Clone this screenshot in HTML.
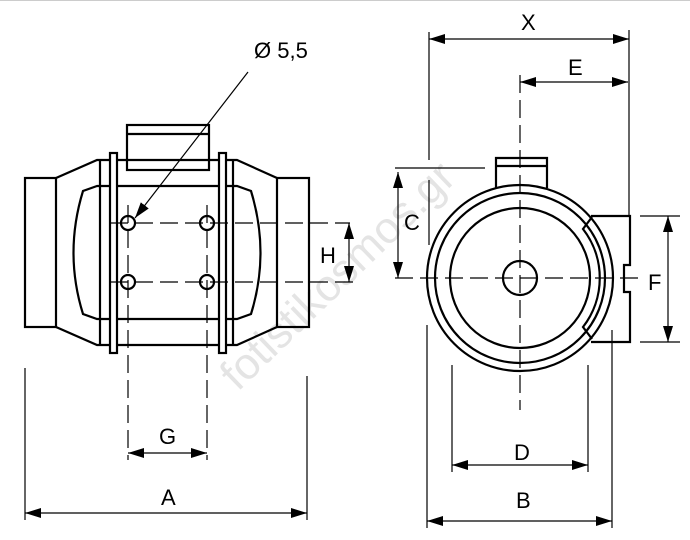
<!DOCTYPE html>
<html><head><style>body{margin:0;background:#fff}svg{display:block}text{font-family:"Liberation Sans",sans-serif;font-size:22px;fill:#000}</style></head><body>
<svg width="690" height="540" viewBox="0 0 690 540" xmlns="http://www.w3.org/2000/svg">
<defs>
<marker id="a" viewBox="0 0 16 10" refX="16" refY="5" markerWidth="16" markerHeight="10" markerUnits="userSpaceOnUse" orient="auto-start-reverse"><path d="M0,0L16,5L0,10z" fill="#000"/></marker>
</defs>
<text x="338" y="290" text-anchor="middle" transform="rotate(-44 338 276)" style="font-size:44px;fill:#e4e4e4">fotistikosmos.gr</text>
<line x1="0" y1="0.5" x2="690" y2="0.5" stroke="#ccc"/>
<g fill="none" stroke="#000" stroke-width="2.2">
<rect x="25" y="178" width="31" height="149"/>
<rect x="277" y="178" width="32" height="149"/>
<path d="M56,178L97,160H237L277,178M56,327L97,345H237L277,327"/>
<rect x="127" y="125" width="82" height="45"/>
<line x1="127" y1="134" x2="209" y2="134"/>
<path d="M97,186L83,191Q64,253 83,314L97,319H237L251,314Q270,253 251,191L237,186Z"/>
<line x1="100" y1="160" x2="100" y2="345"/><line x1="233" y1="160" x2="233" y2="345"/>
<rect x="110" y="153" width="7" height="200" fill="#fff"/>
<rect x="219" y="153" width="7" height="200" fill="#fff"/>
<circle cx="128" cy="223" r="7"/><circle cx="207" cy="223" r="7"/>
<circle cx="128" cy="282" r="7"/><circle cx="207" cy="282" r="7"/>
<circle cx="520" cy="278" r="93"/><circle cx="520" cy="278" r="85"/><circle cx="520" cy="278" r="70"/><circle cx="520" cy="278" r="17"/>
<path d="M496,188V158H547V188M496,166H547"/>
<path d="M591,216H630V265H624V292H630V342H591"/>
<path d="M592,217L583,229A80,80 0 0 1 583,327L592,339"/>
</g>
<g stroke="#000" stroke-width="1.2" fill="none">
<line x1="248" y1="72" x2="135" y2="218" marker-end="url(#a)"/>
<g stroke-dasharray="18,7">
<line x1="110" y1="223" x2="350" y2="223"/><line x1="110" y1="282" x2="355" y2="282"/>
<line x1="128" y1="205" x2="128" y2="460"/><line x1="207" y1="205" x2="207" y2="460"/>
<line x1="395" y1="278" x2="645" y2="278"/>
<line x1="520" y1="75" x2="520" y2="410"/>
</g>
<line x1="25" y1="368" x2="25" y2="520"/><line x1="307" y1="376" x2="307" y2="520"/>
<line x1="25" y1="513" x2="307" y2="513" marker-start="url(#a)" marker-end="url(#a)"/>
<line x1="128" y1="453" x2="207" y2="453" marker-start="url(#a)" marker-end="url(#a)"/>
<line x1="349" y1="223" x2="349" y2="282" marker-start="url(#a)" marker-end="url(#a)"/>
<line x1="429" y1="32" x2="429" y2="160"/><line x1="429" y1="180" x2="429" y2="245"/>
<line x1="629" y1="30" x2="629" y2="215"/>
<line x1="429" y1="39" x2="629" y2="39" marker-start="url(#a)" marker-end="url(#a)"/>
<line x1="520" y1="82" x2="628" y2="82" marker-start="url(#a)" marker-end="url(#a)"/>
<line x1="395" y1="168" x2="485" y2="168"/>
<line x1="398" y1="172" x2="398" y2="278" marker-start="url(#a)" marker-end="url(#a)"/>
<line x1="640" y1="216" x2="680" y2="216"/><line x1="640" y1="342" x2="680" y2="342"/>
<line x1="668" y1="216" x2="668" y2="342" marker-start="url(#a)" marker-end="url(#a)"/>
<line x1="452" y1="365" x2="452" y2="472"/><line x1="588" y1="365" x2="588" y2="472"/>
<line x1="452" y1="465" x2="588" y2="465" marker-start="url(#a)" marker-end="url(#a)"/>
<line x1="427" y1="325" x2="427" y2="528"/><line x1="612" y1="330" x2="612" y2="528"/>
<line x1="427" y1="521" x2="612" y2="521" marker-start="url(#a)" marker-end="url(#a)"/>
</g>
<text x="254" y="58">Ø 5,5</text>
<text x="161" y="505">A</text><text x="159" y="444">G</text><text x="320" y="263">H</text>
<text x="521" y="30">X</text><text x="568" y="75">E</text><text x="404" y="230">C</text>
<text x="648" y="290">F</text><text x="514" y="460">D</text><text x="516" y="508">B</text>
</svg>
</body></html>
